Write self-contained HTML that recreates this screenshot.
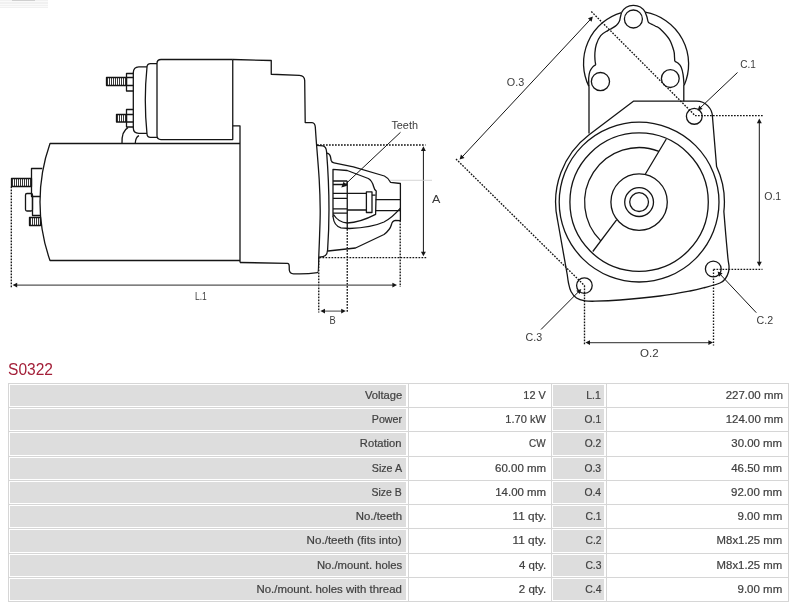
<!DOCTYPE html>
<html><head><meta charset="utf-8"><style>
html,body{margin:0;padding:0;background:#fff;}
body{width:800px;height:607px;position:relative;will-change:transform;overflow:hidden;font-family:"Liberation Sans",sans-serif;}
.drw{position:absolute;left:0;top:0;}
.drw .dash{stroke-dasharray:1.7 1.3;stroke-width:1.35;}
.drw .ln{stroke-width:1.0;}
.drw .ln2{stroke-width:1.1;stroke:#555;}
.drw .ah{fill:#151515;stroke:none;}
.drw .th{stroke-width:0.85;}
.title{position:absolute;left:8.4px;top:359.5px;font-size:15.8px;line-height:20px;color:#a31f38;transform:scaleX(0.985);transform-origin:0 50%;}
.g{position:absolute;background:#dddddd;}
.t{position:absolute;text-align:right;font-size:10.6px;color:#404040;white-space:nowrap;-webkit-text-stroke:0.2px #404040;}
.t span{display:inline-block;transform-origin:100% 50%;}
.hl{position:absolute;left:8px;width:781px;height:1px;background:#d6d6d6;}
.vl{position:absolute;top:383px;height:219px;width:1px;background:#d6d6d6;}
.wm{position:absolute;left:0;top:0;width:48px;height:8px;background:repeating-linear-gradient(#f1f1f1 0,#f1f1f1 1px,#fafafa 1px,#fafafa 2.5px);}
.wm2{position:absolute;left:12px;top:0;width:23px;height:1px;background:#cfcfcf;}
</style></head><body>
<div class="wm"></div><div class="wm2"></div>
<svg class="drw" width="800" height="370" viewBox="0 0 800 370">
<g fill="none" stroke="#151515" stroke-width="1.3" stroke-linejoin="round">
<path d="M240,143.5H50A176,176 0 0 0 50,260.5H240"/>
<path d="M232.75,125.8H240V262.5"/>
<path d="M232.75,59.5H161Q157,59.5 157,63.5V135.6Q157,139.6 161,139.6H232.75V59.5"/>
<path d="M157,63.6H150.5Q147.2,63.6 147,67Q143.6,100 147,134Q147.2,137.3 150.5,137.3H157"/>
<path d="M147,66.8H138.8Q133.4,67 133.3,72.5V128Q133.4,133.3 138.8,133.3H147"/>
<path d="M133.3,73.5H126.5V91H133.3M126.5,77.5H133.3M126.5,85.5H133.3"/>
<path d="M133.3,109.5H126.5V127H133.3M126.5,114.5H133.3M126.5,122H133.3"/>
<rect x="106.5" y="77.5" width="20" height="8"/><path class="th" d="M107.5,77.5V85.5M109.5,77.5V85.5M111.5,77.5V85.5M113.5,77.5V85.5M115.5,77.5V85.5M117.5,77.5V85.5M119.5,77.5V85.5M121.5,77.5V85.5M123.5,77.5V85.5M125.5,77.5V85.5"/>
<rect x="116.5" y="114.5" width="10" height="7.5"/><path class="th" d="M117.5,114.5V122M119.5,114.5V122M121.5,114.5V122M123.5,114.5V122M125.5,114.5V122"/>
<path d="M122,143.5Q121.5,131 128,127.6M135.25,143.5Q135.5,137 139,135.6"/>
<path d="M42.3,168.5H31.5V196.5H40.2"/>
<path d="M32.5,196.5V215.5H40.4"/>
<rect x="25.5" y="193.5" width="7" height="17.5" rx="1.5"/>
<rect x="11.5" y="178.5" width="20" height="8"/><path class="th" d="M12.5,178.5V186.5M14.5,178.5V186.5M16.5,178.5V186.5M18.5,178.5V186.5M20.5,178.5V186.5M22.5,178.5V186.5M24.5,178.5V186.5M26.5,178.5V186.5M28.5,178.5V186.5M30.5,178.5V186.5"/>
<rect x="29.5" y="217.5" width="11" height="8"/><path class="th" d="M30.5,217.5V225.5M32.5,217.5V225.5M34.5,217.5V225.5M36.5,217.5V225.5M38.5,217.5V225.5"/>
<path d="M232.75,59.5L271.25,60.5V74.25L299.5,75.3Q304.6,75.6 304.7,80.5L305.2,122.5L312,122.6Q315,123 315.3,127C315.45,129.17 315.55,131.25 316.2,140C316.85,148.75 318.53,167.83 319.2,179.5C319.87,191.17 320.13,200.75 320.2,210C320.27,219.25 319.84,227.17 319.6,235C319.36,242.83 318.89,253.33 318.75,257Q318.6,272.6 317.5,272.6Q306,274.4 293.5,273.8Q289.6,273.6 289.3,270L289.2,266Q289.2,263.5 287.5,263.3L240,262.5"/>
<path d="M316.9,145.3L322.8,145.9Q326.3,146.5 326.6,152Q330.8,205 327.6,250Q327,256.2 323,256.6L319,257.2"/>
<path d="M327,153.2Q330,153.8 330.5,157L331.2,160.5Q331.8,162.5 334,162.8L353.4,166.8L384.4,176Q388.5,178 390.5,182.3L400.4,183.5V220.6L395.5,220.3Q392,221 391.5,224.5Q390,230 384,234.5L355.5,248L328,251"/>
<path d="M333,216.9V169.3L347.25,170.5L368.3,178.5Q372,180.5 373.6,186.5Q374.3,189.5 376.2,191L375.6,214.4Q360,222.5 347.25,223Q338.5,222.5 333.5,214.5"/>
<path d="M333,216.5Q334,226 341,227.8L349.5,228.5Q372,227.5 384,222Q392,218 400.4,208.2"/>
<path d="M333,181H347.25M333,184.5H347.25M333,193.4H347.25M333,198.3H347.25M333,208.8H347.25M333,213.2H347.25M347.25,181V229"/>
<path d="M347.25,193.4H366.4M347.25,210H366.4M375.6,199.6H400.4M375.6,210.7H400.4M372,195.2H375.6"/>
<rect x="366.4" y="191.9" width="5.6" height="20.6"/>
<path class="ln" d="M400.5,132.3L343.5,186"/>
<path d="M341.3,187.6L343.55,181.8L347.24,185.75Z" class="ah"/>
<path class="dash" d="M317,145H425.5M319.5,257.6H426.5M11.3,186.5V287.5M318.75,257.6V312.5M347.25,229V312.5M400.2,220.6V287"/>
<path class="ln" d="M423.4,149V254"/>
<path d="M423.4,146.3L425.85,150.9L420.95,150.9Z" class="ah"/>
<path d="M423.4,256.3L420.95,251.7L425.85,251.7Z" class="ah"/>
<path class="ln2" d="M15,285.1H394.5"/>
<path d="M12.6,285.1L17.2,282.65L17.2,287.55Z" class="ah"/>
<path d="M397,285.1L392.4,287.55L392.4,282.65Z" class="ah"/>
<path class="ln2" d="M323,311.1H343.5"/>
<path d="M320.4,311.1L325,308.65L325,313.55Z" class="ah"/>
<path d="M345.8,311.1L341.2,313.55L341.2,308.65Z" class="ah"/>
<path d="M390,180.3H432" stroke="#ccc" stroke-width="0.8"/>
<circle cx="639.1" cy="202.1" r="9.4"/>
<circle cx="639.1" cy="202.1" r="14.4"/>
<circle cx="639.1" cy="202.1" r="28.2"/>
<circle cx="639.1" cy="202.1" r="69.2"/>
<circle cx="639.1" cy="202.1" r="79.9"/>
<path d="M658.93,151.34A54.5,54.5 0 0 0 600.79,240.86"/>
<path d="M666.3,139.0L645.4,174.0M616.6,219.8L592.8,251.5"/>
<path d="M633.4,101.2H696.5A16,16 0 0 1 712.5,117.2L716.57,166.5A84.4,84.4 0 0 1 723.86,211.5C724.18,215.42 725.13,227.25 725.8,235C726.47,242.75 727.37,252.83 727.9,258C728.43,263.17 728.9,263.67 729,266C729.1,268.33 729.08,269.92 728.5,272C727.92,274.08 726.92,276.67 725.5,278.5C724.08,280.33 723.42,281.5 720,283C716.58,284.5 710,286.17 705,287.5C700,288.83 697.5,289.58 690,291C682.5,292.42 671.67,294.5 660,296C648.33,297.5 630.83,299.13 620,300C609.17,300.87 600.83,301.07 595,301.2C589.17,301.33 588.08,301.33 585,300.8C581.92,300.27 578.83,299.55 576.5,298C574.17,296.45 572.33,294 571,291.5C569.67,289 569.12,285.75 568.5,283C567.88,280.25 567.5,276.33 567.3,275L557.54,220A84.4,84.4 0 0 1 589.12,134.66Z"/>
<circle cx="694.3" cy="116.35" r="7.9"/>
<circle cx="713.3" cy="269" r="7.9"/>
<circle cx="584.4" cy="285.6" r="7.8"/>
<path d="M588.9,86.4A52.7,52.7 0 0 1 621.5,12.6"/>
<path d="M645.2,12.2A52.7,52.7 0 0 1 684.2,85.2"/>
<path d="M621.5,12.6A13.6,13.6 0 0 1 645.2,12.2"/>
<circle cx="633.4" cy="19" r="9"/>
<path d="M621.5,12.6C621.3,13.42 620.65,16.05 620.3,17.5C619.95,18.95 620.03,20 619.4,21.3C618.77,22.6 617.77,24.12 616.5,25.3C615.23,26.48 613.27,27.52 611.8,28.4C610.33,29.28 609.55,29.4 607.7,30.6C605.85,31.8 602.6,33.28 600.7,35.6C598.8,37.92 597.27,41.6 596.3,44.5C595.33,47.4 595.12,50.42 594.9,53C594.68,55.58 594.87,58.03 595,60C595.13,61.97 595.58,64 595.7,64.8"/>
<path d="M595.7,64.8C595.22,65.15 593.77,65.8 592.8,66.9C591.83,68 590.58,69.55 589.9,71.4C589.22,73.25 588.87,75.53 588.7,78C588.53,80.47 588.87,84.83 588.9,86.2"/>
<path d="M645.2,12.2C645.48,12.97 646.42,15.23 646.9,16.8C647.38,18.37 647.72,20.57 648.1,21.6C648.48,22.63 648.63,22.57 649.2,23C649.77,23.43 650.45,23.67 651.5,24.2C652.55,24.73 654.08,25.43 655.5,26.2C656.92,26.97 657.72,26.63 660,28.8C662.28,30.97 666.9,35.54 669.2,39.2C671.5,42.86 672.92,47.78 673.8,50.75C674.68,53.72 674.34,55.24 674.5,57C674.66,58.76 674.71,60.58 674.75,61.3"/>
<path d="M674.75,61.3C675.33,61.63 677.12,62.32 678.2,63.3C679.28,64.28 680.38,65.32 681.2,67.2C682.02,69.08 682.63,71.72 683.1,74.6C683.57,77.48 683.85,82.85 684,84.5"/>
<circle cx="600.45" cy="81.6" r="9.1"/>
<circle cx="670.3" cy="78.6" r="8.9"/>
<path d="M589,86.2V133.6M683.8,84.5V101.3"/>
<path class="dash" d="M591.3,11.5L695,115.5M456,159L584.5,285.6M695,115.6H763.5M713.5,269.4H762.5M584.5,285.6V345.5M713.5,269.4V345.5"/>
<path class="ln" d="M461.8,157.3L590.8,19.0"/>
<path d="M592.9,16.6L591.56,21.64L587.97,18.3Z" class="ah"/>
<path d="M459.6,159.6L460.95,154.57L464.53,157.91Z" class="ah"/>
<path class="ln" d="M737.5,72.5L699.5,108.5"/>
<path d="M697.6,110.4L699.25,105.46L702.62,109.01Z" class="ah"/>
<path class="ln" d="M759.3,121V264"/>
<path d="M759.3,118.6L761.75,123.2L756.85,123.2Z" class="ah"/>
<path d="M759.3,266.4L756.85,261.8L761.75,261.8Z" class="ah"/>
<path class="ln" d="M756.3,312.7L719.5,273.6"/>
<path d="M717.6,271.6L722.54,273.27L718.97,276.63Z" class="ah"/>
<path class="ln" d="M541,329.5L579.3,291"/>
<path d="M581.3,289.1L579.79,294.09L576.32,290.63Z" class="ah"/>
<path class="ln2" d="M588,342.6H710.4"/>
<path d="M585.4,342.6L590,340.15L590,345.05Z" class="ah"/>
<path d="M713,342.6L708.4,345.05L708.4,340.15Z" class="ah"/>
</g>
<g fill="#3a3a3a" font-family="Liberation Sans, sans-serif"><text x="391.4" y="128.5" font-size="10.5" textLength="26.6" lengthAdjust="spacingAndGlyphs">Teeth</text><text x="431.9" y="203.4" font-size="10.5" textLength="8.4" lengthAdjust="spacingAndGlyphs">A</text><text x="195" y="300" font-size="10.5" textLength="11.8" lengthAdjust="spacingAndGlyphs">L.1</text><text x="329.6" y="323.8" font-size="10.5" textLength="6.2" lengthAdjust="spacingAndGlyphs">B</text><text x="506.8" y="85.6" font-size="10.5" textLength="17.4" lengthAdjust="spacingAndGlyphs">O.3</text><text x="740.2" y="67.9" font-size="10.5" textLength="15.6" lengthAdjust="spacingAndGlyphs">C.1</text><text x="764.2" y="200.2" font-size="10.5" textLength="17" lengthAdjust="spacingAndGlyphs">O.1</text><text x="756.6" y="324.3" font-size="10.5" textLength="16.6" lengthAdjust="spacingAndGlyphs">C.2</text><text x="525.6" y="340.5" font-size="10.5" textLength="16.6" lengthAdjust="spacingAndGlyphs">C.3</text><text x="640" y="357.4" font-size="10.5" textLength="18.6" lengthAdjust="spacingAndGlyphs">O.2</text></g>
</svg>
<div class="title">S0322</div>
<div class="hl" style="top:383px"></div><div class="hl" style="top:407px"></div><div class="hl" style="top:431px"></div><div class="hl" style="top:456px"></div><div class="hl" style="top:480px"></div><div class="hl" style="top:504px"></div><div class="hl" style="top:528px"></div><div class="hl" style="top:553px"></div><div class="hl" style="top:577px"></div><div class="hl" style="top:601px"></div><div class="vl" style="left:8px"></div><div class="vl" style="left:408px"></div><div class="vl" style="left:551px"></div><div class="vl" style="left:606px"></div><div class="vl" style="left:788px"></div>
<div class="g" style="left:10px;top:385px;width:396px;height:21px"></div><div class="t" style="left:8px;top:383px;width:393.9px;height:24px;line-height:24.5px"><span style="transform:scaleX(1.0597)">Voltage</span></div><div class="t" style="left:408px;top:383px;width:137.8px;height:24px;line-height:24.5px"><span style="transform:scaleX(1.0294)">12 V</span></div><div class="g" style="left:553px;top:385px;width:51px;height:21px"></div><div class="t" style="left:551px;top:383px;width:50.2px;height:24px;line-height:24.5px"><span style="transform:scaleX(0.9844)">L.1</span></div><div class="t" style="left:606px;top:383px;width:176.6px;height:24px;line-height:24.5px"><span style="transform:scaleX(1.0813)">227.00 mm</span></div><div class="g" style="left:10px;top:409px;width:396px;height:21px"></div><div class="t" style="left:8px;top:407px;width:393.9px;height:24px;line-height:24.5px"><span style="transform:scaleX(1.0072)">Power</span></div><div class="t" style="left:408px;top:407px;width:137.8px;height:24px;line-height:24.5px"><span style="transform:scaleX(1.0433)">1.70 kW</span></div><div class="g" style="left:553px;top:409px;width:51px;height:21px"></div><div class="t" style="left:551px;top:407px;width:50.2px;height:24px;line-height:24.5px"><span style="transform:scaleX(0.9651)">O.1</span></div><div class="t" style="left:606px;top:407px;width:176.6px;height:24px;line-height:24.5px"><span style="transform:scaleX(1.0801)">124.00 mm</span></div><div class="g" style="left:10px;top:433px;width:396px;height:22px"></div><div class="t" style="left:8px;top:431px;width:393.9px;height:25px;line-height:25.5px"><span style="transform:scaleX(1.0541)">Rotation</span></div><div class="t" style="left:408px;top:431px;width:137.8px;height:25px;line-height:25.5px"><span style="transform:scaleX(0.9375)">CW</span></div><div class="g" style="left:553px;top:433px;width:51px;height:22px"></div><div class="t" style="left:551px;top:431px;width:50.2px;height:25px;line-height:25.5px"><span style="transform:scaleX(0.9621)">O.2</span></div><div class="t" style="left:606px;top:431px;width:176.6px;height:25px;line-height:25.5px"><span style="transform:scaleX(1.0791)">30.00 mm</span></div><div class="g" style="left:10px;top:458px;width:396px;height:21px"></div><div class="t" style="left:8px;top:456px;width:393.9px;height:24px;line-height:24.5px"><span style="transform:scaleX(1.0076)">Size A</span></div><div class="t" style="left:408px;top:456px;width:137.8px;height:24px;line-height:24.5px"><span style="transform:scaleX(1.0827)">60.00 mm</span></div><div class="g" style="left:553px;top:458px;width:51px;height:21px"></div><div class="t" style="left:551px;top:456px;width:50.2px;height:24px;line-height:24.5px"><span style="transform:scaleX(0.9681)">O.3</span></div><div class="t" style="left:606px;top:456px;width:176.6px;height:24px;line-height:24.5px"><span style="transform:scaleX(1.0796)">46.50 mm</span></div><div class="g" style="left:10px;top:482px;width:396px;height:21px"></div><div class="t" style="left:8px;top:480px;width:393.9px;height:24px;line-height:24.5px"><span style="transform:scaleX(0.9856)">Size B</span></div><div class="t" style="left:408px;top:480px;width:137.8px;height:24px;line-height:24.5px"><span style="transform:scaleX(1.0802)">14.00 mm</span></div><div class="g" style="left:553px;top:482px;width:51px;height:21px"></div><div class="t" style="left:551px;top:480px;width:50.2px;height:24px;line-height:24.5px"><span style="transform:scaleX(0.9772)">O.4</span></div><div class="t" style="left:606px;top:480px;width:176.6px;height:24px;line-height:24.5px"><span style="transform:scaleX(1.0825)">92.00 mm</span></div><div class="g" style="left:10px;top:506px;width:396px;height:21px"></div><div class="t" style="left:8px;top:504px;width:393.9px;height:24px;line-height:24.5px"><span style="transform:scaleX(1.0761)">No./teeth</span></div><div class="t" style="left:408px;top:504px;width:137.8px;height:24px;line-height:24.5px"><span style="transform:scaleX(1.1120)">11 qty.</span></div><div class="g" style="left:553px;top:506px;width:51px;height:21px"></div><div class="t" style="left:551px;top:504px;width:50.2px;height:24px;line-height:24.5px"><span style="transform:scaleX(0.9725)">C.1</span></div><div class="t" style="left:606px;top:504px;width:176.6px;height:24px;line-height:24.5px"><span style="transform:scaleX(1.0844)">9.00 mm</span></div><div class="g" style="left:10px;top:530px;width:396px;height:22px"></div><div class="t" style="left:8px;top:528px;width:393.9px;height:25px;line-height:25.5px"><span style="transform:scaleX(1.0974)">No./teeth (fits into)</span></div><div class="t" style="left:408px;top:528px;width:137.8px;height:25px;line-height:25.5px"><span style="transform:scaleX(1.1120)">11 qty.</span></div><div class="g" style="left:553px;top:530px;width:51px;height:22px"></div><div class="t" style="left:551px;top:528px;width:50.2px;height:25px;line-height:25.5px"><span style="transform:scaleX(0.9693)">C.2</span></div><div class="t" style="left:606px;top:528px;width:176.6px;height:25px;line-height:25.5px"><span style="transform:scaleX(1.0715)">M8x1.25 mm</span></div><div class="g" style="left:10px;top:555px;width:396px;height:21px"></div><div class="t" style="left:8px;top:553px;width:393.9px;height:24px;line-height:24.5px"><span style="transform:scaleX(1.0631)">No./mount. holes</span></div><div class="t" style="left:408px;top:553px;width:137.8px;height:24px;line-height:24.5px"><span style="transform:scaleX(1.0811)">4 qty.</span></div><div class="g" style="left:553px;top:555px;width:51px;height:21px"></div><div class="t" style="left:551px;top:553px;width:50.2px;height:24px;line-height:24.5px"><span style="transform:scaleX(0.9756)">C.3</span></div><div class="t" style="left:606px;top:553px;width:176.6px;height:24px;line-height:24.5px"><span style="transform:scaleX(1.0715)">M8x1.25 mm</span></div><div class="g" style="left:10px;top:579px;width:396px;height:21px"></div><div class="t" style="left:8px;top:577px;width:393.9px;height:24px;line-height:24.5px"><span style="transform:scaleX(1.0783)">No./mount. holes with thread</span></div><div class="t" style="left:408px;top:577px;width:137.8px;height:24px;line-height:24.5px"><span style="transform:scaleX(1.0851)">2 qty.</span></div><div class="g" style="left:553px;top:579px;width:51px;height:21px"></div><div class="t" style="left:551px;top:577px;width:50.2px;height:24px;line-height:24.5px"><span style="transform:scaleX(0.9850)">C.4</span></div><div class="t" style="left:606px;top:577px;width:176.6px;height:24px;line-height:24.5px"><span style="transform:scaleX(1.0844)">9.00 mm</span></div>
</body></html>
